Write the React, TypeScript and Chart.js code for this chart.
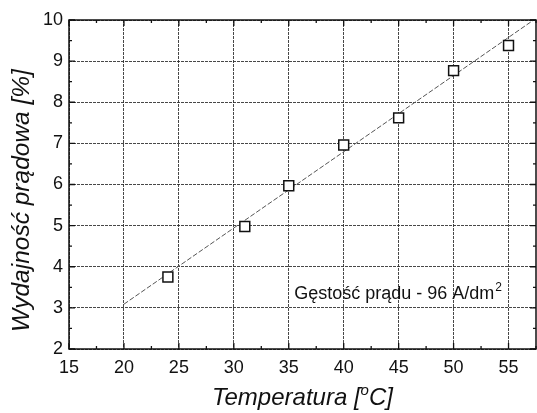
import React, { useEffect, useRef } from "react";
import { Chart, registerables } from "chart.js";

Chart.register(...registerables);

// ---- Data ----
const temperatures = [24, 31, 35, 40, 45, 50, 55];
const efficiency = [3.75, 4.98, 5.97, 6.96, 7.62, 8.77, 9.38];

// Linear fit line (end points)
const fitX = [20, 57.5];
const fitY = [3.09, 10.04];

// Axis ticks
const xMajorTicks = [15, 20, 25, 30, 35, 40, 45, 50, 55];
const xMinorTicks = [17.5, 22.5, 27.5, 32.5, 37.5, 42.5, 47.5, 52.5, 57.5];
const yMajorTicks = [2, 3, 4, 5, 6, 7, 8, 9, 10];
const yMinorTicks = [2.5, 3.5, 4.5, 5.5, 6.5, 7.5, 8.5, 9.5];

const xRange = [15, 57.5];
const yRange = [2, 10];

// Texts
const xTitleMain = "Temperatura [";
const xTitleSup = "o";
const xTitleEnd = "C]";
const yTitle = "Wydajność prądowa [%]";
const noteMain = "Gęstość prądu - 96 A/dm";
const noteSup = "2";
const noteAt = { x: 35.5, y: 3.22 };

const FONT = "'Liberation Sans', Arial, sans-serif";

const decorPlugin = {
  id: "decor",
  afterDraw(chart: any) {
    const ctx = chart.ctx;
    const { left, right, top, bottom } = chart.chartArea;
    const xs = chart.scales.x;
    const ys = chart.scales.y;
    ctx.save();
    ctx.strokeStyle = "#111";
    ctx.lineWidth = 1.5;
    ctx.strokeRect(left, top, right - left, bottom - top);

    ctx.lineWidth = 1.3;
    const tickX = (vals: number[], len: number) => {
      vals.forEach((v) => {
        const px = xs.getPixelForValue(v);
        if (px < left - 0.5 || px > right + 0.5) return;
        ctx.beginPath();
        ctx.moveTo(px, bottom);
        ctx.lineTo(px, bottom - len);
        ctx.moveTo(px, top);
        ctx.lineTo(px, top + len);
        ctx.stroke();
      });
    };
    const tickY = (vals: number[], len: number) => {
      vals.forEach((v) => {
        const py = ys.getPixelForValue(v);
        ctx.beginPath();
        ctx.moveTo(left, py);
        ctx.lineTo(left + len, py);
        ctx.moveTo(right, py);
        ctx.lineTo(right - len, py);
        ctx.stroke();
      });
    };
    tickX(xMajorTicks, 6);
    tickX(xMinorTicks, 3);
    tickY(yMajorTicks, 6);
    tickY(yMinorTicks, 3);

    ctx.fillStyle = "#111";
    // X title with superscript
    ctx.textBaseline = "alphabetic";
    ctx.textAlign = "left";
    const mainFont = `italic 24px ${FONT}`;
    const supFont = `italic 15px ${FONT}`;
    ctx.font = mainFont;
    const w1 = ctx.measureText(xTitleMain).width;
    const w3 = ctx.measureText(xTitleEnd).width;
    ctx.font = supFont;
    const w2 = ctx.measureText(xTitleSup).width;
    const total = w1 + w2 + w3;
    const cx = (left + right) / 2;
    const by = bottom + 56;
    const x0 = cx - total / 2;
    ctx.font = mainFont;
    ctx.fillText(xTitleMain, x0, by);
    ctx.font = supFont;
    ctx.fillText(xTitleSup, x0 + w1, by - 10);
    ctx.font = mainFont;
    ctx.fillText(xTitleEnd, x0 + w1 + w2, by);

    // Y title
    ctx.save();
    ctx.translate(29, (top + bottom) / 2 + 16);
    ctx.rotate(-Math.PI / 2);
    ctx.textAlign = "center";
    ctx.font = `italic 24.5px ${FONT}`;
    ctx.fillText(yTitle, 0, 0);
    ctx.restore();

    // Annotation
    const ax = xs.getPixelForValue(noteAt.x);
    const ay = ys.getPixelForValue(noteAt.y);
    ctx.textAlign = "left";
    ctx.font = `18px ${FONT}`;
    ctx.fillText(noteMain, ax, ay);
    const nw = ctx.measureText(noteMain).width;
    ctx.font = `12px ${FONT}`;
    ctx.fillText(noteSup, ax + nw + 1, ay - 8);

    ctx.restore();
  },
};

export default function App() {
  const ref = useRef<HTMLCanvasElement | null>(null);
  useEffect(() => {
    if (!ref.current) return;
    const chart = new Chart(ref.current, {
      type: "scatter",
      data: {
        datasets: [
          {
            type: "scatter",
            label: "pomiary",
            data: temperatures.map((t, i) => ({ x: t, y: efficiency[i] })),
            pointStyle: "rect",
            pointRadius: 7,
            pointHoverRadius: 7,
            borderWidth: 1.5,
            borderColor: "#111",
            backgroundColor: "#fff",
            order: 0,
          },
          {
            type: "line",
            label: "fit",
            data: fitX.map((t, i) => ({ x: t, y: fitY[i] })),
            pointRadius: 0,
            borderColor: "#555",
            borderWidth: 1,
            borderDash: [5, 2],
            fill: false,
            order: 1,
          } as any,
        ],
      },
      options: {
        animation: false,
        responsive: false,
        maintainAspectRatio: false,
        layout: { autoPadding: false, padding: { top: 20, right: 1, left: 0, bottom: 0 } },
        plugins: {
          legend: { display: false },
          tooltip: { enabled: false },
        },
        scales: {
          x: {
            type: "linear",
            min: xRange[0],
            max: xRange[1],
            afterBuildTicks: (s: any) => {
              s.ticks = xMajorTicks.map((v) => ({ value: v }));
            },
            afterFit: (s: any) => {
              s.height = 64;
              s.paddingLeft = 0;
              s.paddingRight = 0;
            },
            ticks: {
              color: "#111",
              font: { family: FONT, size: 18 },
              padding: 8,
              maxRotation: 0,
              autoSkip: false,
            },
            grid: {
              color: "rgba(40,40,40,0.85)",
              lineWidth: 1,
              drawTicks: false,
            },
            border: { display: false, dash: [3, 1] },
          },
          y: {
            type: "linear",
            min: yRange[0],
            max: yRange[1],
            afterBuildTicks: (s: any) => {
              s.ticks = yMajorTicks.map((v) => ({ value: v }));
            },
            afterFit: (s: any) => {
              s.width = 69;
              s.paddingTop = 0;
              s.paddingBottom = 0;
            },
            ticks: {
              color: "#111",
              font: { family: FONT, size: 18 },
              padding: 6,
              autoSkip: false,
            },
            grid: {
              color: "rgba(40,40,40,0.85)",
              lineWidth: 1,
              drawTicks: false,
            },
            border: { display: false, dash: [3, 1] },
          },
        },
      },
      plugins: [decorPlugin],
    });
    return () => chart.destroy();
  }, []);
  return (
    <div style={{ position: "fixed", left: 0, top: 0, width: 537, height: 413, background: "#fff" }}>
      <canvas ref={ref} width={537} height={413} style={{ display: "block" }} />
    </div>
  );
}
